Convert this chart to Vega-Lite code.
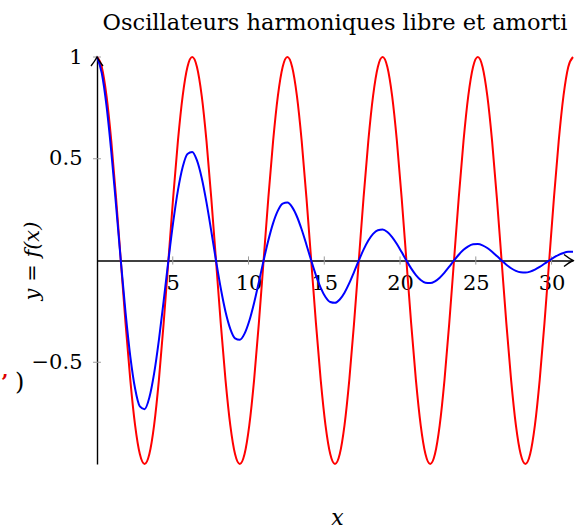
{
  "$schema": "https://vega.github.io/schema/vega-lite/v6.json",
  "width": 476,
  "height": 407,
  "autosize": {"type": "none"},
  "padding": {"left": 97, "top": 57, "right": 7, "bottom": 68},
  "background": "white",
  "title": {
    "text": "Oscillateurs harmoniques libre et amorti",
    "font": "DejaVu Serif",
    "fontSize": 22.5,
    "fontWeight": "normal",
    "color": "black",
    "anchor": "middle",
    "frame": "group",
    "baseline": "alphabetic",
    "offset": -6
  },
  "config": {
    "view": {"stroke": null},
    "axis": {"grid": false}
  },
  "datasets": {
    "curves": [
      {"x": 0, "c": 1, "d": 1},
      {"x": 0.3142, "c": 0.9511, "d": 0.9216},
      {"x": 0.6283, "c": 0.809, "d": 0.7598},
      {"x": 0.9425, "c": 0.5878, "d": 0.5349},
      {"x": 1.2566, "c": 0.309, "d": 0.2725},
      {"x": 1.5708, "c": 0, "d": 0},
      {"x": 1.885, "c": -0.309, "d": -0.2559},
      {"x": 2.1991, "c": -0.5878, "d": -0.4718},
      {"x": 2.5133, "c": -0.809, "d": -0.6292},
      {"x": 2.8274, "c": -0.9511, "d": -0.7168},
      {"x": 3.1416, "c": -1, "d": -0.7304},
      {"x": 3.4558, "c": -0.9511, "d": -0.6732},
      {"x": 3.7699, "c": -0.809, "d": -0.5549},
      {"x": 4.0841, "c": -0.5878, "d": -0.3907},
      {"x": 4.3982, "c": -0.309, "d": -0.1991},
      {"x": 4.7124, "c": 0, "d": 0},
      {"x": 5.0265, "c": 0.309, "d": 0.1869},
      {"x": 5.3407, "c": 0.5878, "d": 0.3446},
      {"x": 5.6549, "c": 0.809, "d": 0.4596},
      {"x": 5.969, "c": 0.9511, "d": 0.5236},
      {"x": 6.2832, "c": 1, "d": 0.5335},
      {"x": 6.5973, "c": 0.9511, "d": 0.4917},
      {"x": 6.9115, "c": 0.809, "d": 0.4053},
      {"x": 7.2257, "c": 0.5878, "d": 0.2854},
      {"x": 7.5398, "c": 0.309, "d": 0.1454},
      {"x": 7.854, "c": 0, "d": 0},
      {"x": 8.1681, "c": -0.309, "d": -0.1365},
      {"x": 8.4823, "c": -0.5878, "d": -0.2517},
      {"x": 8.7965, "c": -0.809, "d": -0.3357},
      {"x": 9.1106, "c": -0.9511, "d": -0.3824},
      {"x": 9.4248, "c": -1, "d": -0.3897},
      {"x": 9.7389, "c": -0.9511, "d": -0.3591},
      {"x": 10.0531, "c": -0.809, "d": -0.296},
      {"x": 10.3673, "c": -0.5878, "d": -0.2084},
      {"x": 10.6814, "c": -0.309, "d": -0.1062},
      {"x": 10.9956, "c": 0, "d": 0},
      {"x": 11.3097, "c": 0.309, "d": 0.0997},
      {"x": 11.6239, "c": 0.5878, "d": 0.1838},
      {"x": 11.9381, "c": 0.809, "d": 0.2452},
      {"x": 12.2522, "c": 0.9511, "d": 0.2793},
      {"x": 12.5664, "c": 1, "d": 0.2846},
      {"x": 12.8805, "c": 0.9511, "d": 0.2623},
      {"x": 13.1947, "c": 0.809, "d": 0.2162},
      {"x": 13.5088, "c": 0.5878, "d": 0.1522},
      {"x": 13.823, "c": 0.309, "d": 0.0776},
      {"x": 14.1372, "c": 0, "d": 0},
      {"x": 14.4513, "c": -0.309, "d": -0.0728},
      {"x": 14.7655, "c": -0.5878, "d": -0.1343},
      {"x": 15.0796, "c": -0.809, "d": -0.1791},
      {"x": 15.3938, "c": -0.9511, "d": -0.204},
      {"x": 15.708, "c": -1, "d": -0.2079},
      {"x": 16.0221, "c": -0.9511, "d": -0.1916},
      {"x": 16.3363, "c": -0.809, "d": -0.1579},
      {"x": 16.6504, "c": -0.5878, "d": -0.1112},
      {"x": 16.9646, "c": -0.309, "d": -0.0567},
      {"x": 17.2788, "c": 0, "d": 0},
      {"x": 17.5929, "c": 0.309, "d": 0.0532},
      {"x": 17.9071, "c": 0.5878, "d": 0.0981},
      {"x": 18.2212, "c": 0.809, "d": 0.1308},
      {"x": 18.5354, "c": 0.9511, "d": 0.149},
      {"x": 18.8496, "c": 1, "d": 0.1518},
      {"x": 19.1637, "c": 0.9511, "d": 0.1399},
      {"x": 19.4779, "c": 0.809, "d": 0.1154},
      {"x": 19.792, "c": 0.5878, "d": 0.0812},
      {"x": 20.1062, "c": 0.309, "d": 0.0414},
      {"x": 20.4204, "c": 0, "d": 0},
      {"x": 20.7345, "c": -0.309, "d": -0.0389},
      {"x": 21.0487, "c": -0.5878, "d": -0.0716},
      {"x": 21.3628, "c": -0.809, "d": -0.0955},
      {"x": 21.677, "c": -0.9511, "d": -0.1088},
      {"x": 21.9911, "c": -1, "d": -0.1109},
      {"x": 22.3053, "c": -0.9511, "d": -0.1022},
      {"x": 22.6195, "c": -0.809, "d": -0.0843},
      {"x": 22.9336, "c": -0.5878, "d": -0.0593},
      {"x": 23.2478, "c": -0.309, "d": -0.0302},
      {"x": 23.5619, "c": 0, "d": 0},
      {"x": 23.8761, "c": 0.309, "d": 0.0284},
      {"x": 24.1903, "c": 0.5878, "d": 0.0523},
      {"x": 24.5044, "c": 0.809, "d": 0.0698},
      {"x": 24.8186, "c": 0.9511, "d": 0.0795},
      {"x": 25.1327, "c": 1, "d": 0.081},
      {"x": 25.4469, "c": 0.9511, "d": 0.0747},
      {"x": 25.7611, "c": 0.809, "d": 0.0615},
      {"x": 26.0752, "c": 0.5878, "d": 0.0433},
      {"x": 26.3894, "c": 0.309, "d": 0.0221},
      {"x": 26.7035, "c": 0, "d": 0},
      {"x": 27.0177, "c": -0.309, "d": -0.0207},
      {"x": 27.3319, "c": -0.5878, "d": -0.0382},
      {"x": 27.646, "c": -0.809, "d": -0.051},
      {"x": 27.9602, "c": -0.9511, "d": -0.0581},
      {"x": 28.2743, "c": -1, "d": -0.0592},
      {"x": 28.5885, "c": -0.9511, "d": -0.0545},
      {"x": 28.9027, "c": -0.809, "d": -0.045},
      {"x": 29.2168, "c": -0.5878, "d": -0.0317},
      {"x": 29.531, "c": -0.309, "d": -0.0161},
      {"x": 29.8451, "c": 0, "d": 0},
      {"x": 30.1593, "c": 0.309, "d": 0.0151},
      {"x": 30.4734, "c": 0.5878, "d": 0.0279},
      {"x": 30.7876, "c": 0.809, "d": 0.0372},
      {"x": 31.1018, "c": 0.9511, "d": 0.0424},
      {"x": 31.4159, "c": 1, "d": 0.0432}
    ],
    "xticks": [{"v": 5}, {"v": 10}, {"v": 15}, {"v": 20}, {"v": 25}, {"v": 30}],
    "yticks": [{"v": -0.5}, {"v": 0.5}, {"v": 1}],
    "one": [{"n": 1}]
  },
  "layer": [
    {
      "data": {"name": "xticks"},
      "mark": {"type": "rule", "color": "#9a9a9a", "strokeWidth": 1},
      "encoding": {
        "x": {"field": "v", "type": "quantitative"},
        "y": {"datum": -0.02, "type": "quantitative"},
        "y2": {"datum": 0.02}
      }
    },
    {
      "data": {"name": "yticks"},
      "mark": {"type": "rule", "color": "#9a9a9a", "strokeWidth": 1},
      "encoding": {
        "y": {"field": "v", "type": "quantitative"},
        "x": {"datum": -0.26, "type": "quantitative"},
        "x2": {"datum": 0.26}
      }
    },
    {
      "data": {"name": "curves"},
      "mark": {"type": "line", "color": "#ff0000", "strokeWidth": 2, "interpolate": "monotone"},
      "encoding": {
        "x": {
          "field": "x",
          "type": "quantitative",
          "scale": {"domain": [0, 31.4159], "nice": false, "zero": false},
          "axis": {
            "values": [5, 10, 15, 20, 25, 30],
            "offset": -203.5,
            "domainColor": "black",
            "domainWidth": 1.4,
            "ticks": false,
            "tickSize": 0,
            "labelFont": "DejaVu Serif",
            "labelFontSize": 21,
            "labelColor": "black",
            "labelPadding": 12,
            "labelFlush": false,
            "title": "x",
            "titleFont": "DejaVu Serif",
            "titleFontStyle": "italic",
            "titleFontWeight": "normal",
            "titleFontSize": 22,
            "titleColor": "black",
            "titleX": 240,
            "titleY": 257,
            "titleBaseline": "middle"
          }
        },
        "y": {
          "field": "c",
          "type": "quantitative",
          "scale": {"domain": [-1, 1], "nice": false, "zero": false},
          "axis": {
            "values": [-0.5, 0.5, 1],
            "format": "~g",
            "domainColor": "black",
            "domainWidth": 1.4,
            "ticks": false,
            "tickSize": 0,
            "labelFont": "DejaVu Serif",
            "labelFontSize": 21,
            "labelColor": "black",
            "labelPadding": 15,
            "title": "y = f(x)",
            "titleFont": "DejaVu Serif",
            "titleFontStyle": "italic",
            "titleFontWeight": "normal",
            "titleFontSize": 21,
            "titleColor": "black",
            "titleX": -65,
            "titleY": 203.5,
            "titleAngle": -90,
            "titleBaseline": "middle",
            "titleAlign": "center"
          }
        }
      }
    },
    {
      "data": {"name": "curves"},
      "mark": {"type": "line", "color": "#0000ff", "strokeWidth": 2, "interpolate": "monotone"},
      "encoding": {
        "x": {"field": "x", "type": "quantitative"},
        "y": {"field": "d", "type": "quantitative"}
      }
    },
    {
      "data": {"name": "one"},
      "mark": {"type": "point", "shape": "M -3 -2 Q -1.2 -0.6 0 0 Q -1.2 0.6 -3 2", "filled": false, "color": "black", "strokeWidth": 1.4, "size": 36, "opacity": 1},
      "encoding": {
        "x": {"datum": 31.4159, "type": "quantitative"},
        "y": {"datum": 0, "type": "quantitative"}
      }
    },
    {
      "data": {"name": "one"},
      "mark": {"type": "point", "shape": "M -2 3 Q -0.6 1.2 0 0 Q 0.6 1.2 2 3", "filled": false, "color": "black", "strokeWidth": 1.4, "size": 36, "opacity": 1},
      "encoding": {
        "x": {"datum": 0, "type": "quantitative"},
        "y": {"datum": 1, "type": "quantitative"}
      }
    },
    {
      "data": {"name": "one"},
      "mark": {"type": "text", "text": "’", "color": "#dd0000", "font": "DejaVu Serif", "fontSize": 21, "fontWeight": "bold"},
      "encoding": {
        "x": {"datum": -6.1, "type": "quantitative"},
        "y": {"datum": -0.6, "type": "quantitative"}
      }
    },
    {
      "data": {"name": "one"},
      "mark": {"type": "text", "text": ")", "color": "black", "font": "DejaVu Serif", "fontSize": 24},
      "encoding": {
        "x": {"datum": -5.1, "type": "quantitative"},
        "y": {"datum": -0.6, "type": "quantitative"}
      }
    }
  ]
}
